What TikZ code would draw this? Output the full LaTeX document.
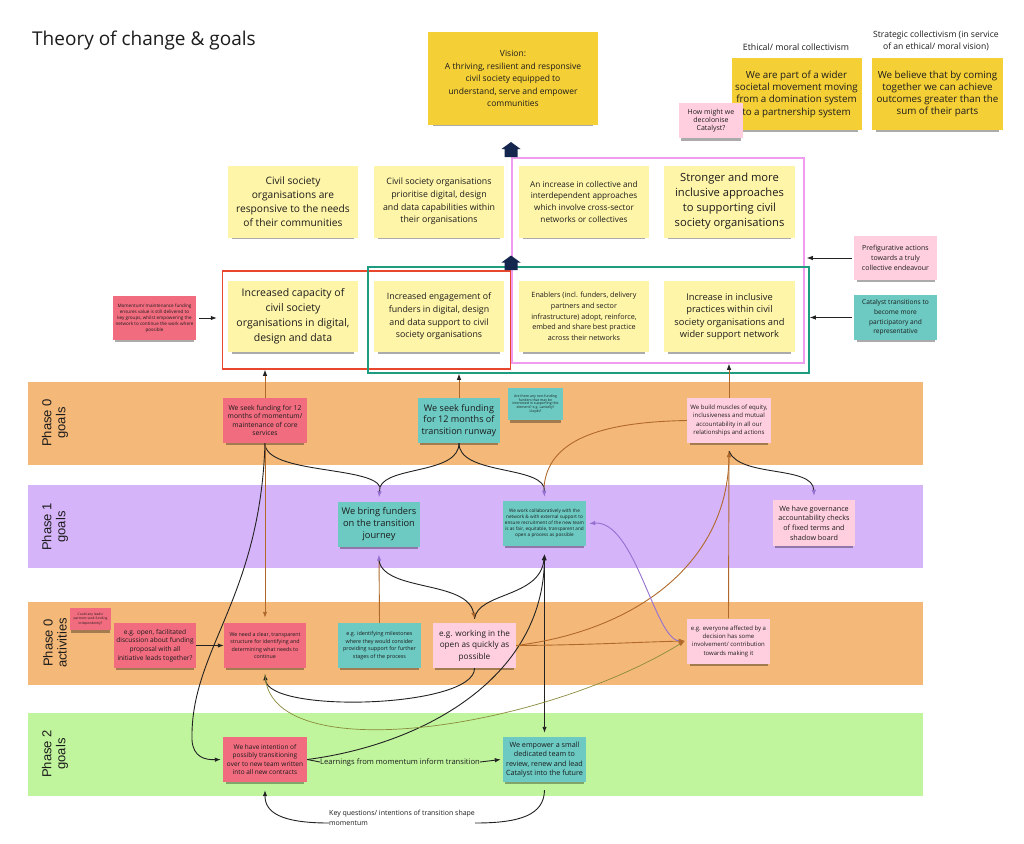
\documentclass[tikz,border=0pt]{standalone}
\usepackage{fontspec}
\setmainfont{Open Sans}
\newfontfamily\arialf{Liberation Sans}
\usetikzlibrary{arrows.meta,shadows,calc}
\definecolor{vyel}{HTML}{F5CF36}
\definecolor{lyel}{HTML}{FFF5A8}
\definecolor{sred}{HTML}{F16C7F}
\definecolor{spink}{HTML}{FFCFE0}
\definecolor{steal}{HTML}{6CCAC3}
\definecolor{borange}{HTML}{F4B878}
\definecolor{bpurple}{HTML}{D6B4FA}
\definecolor{bgreen}{HTML}{C0F59D}
\definecolor{fred}{HTML}{E8472E}
\definecolor{fgreen}{HTML}{1E9C80}
\definecolor{fpink}{HTML}{F29CF0}
\definecolor{navy}{HTML}{14264D}
\definecolor{lbrown}{HTML}{B0692A}
\definecolor{lpurple}{HTML}{9470D0}
\definecolor{lolive}{HTML}{8A8A3A}
\definecolor{txt}{HTML}{1C1C1C}
\definecolor{ldark}{HTML}{222222}
\begin{document}
\begin{tikzpicture}[x=1pt,y=-1pt,
  fs/.style 2 args={font=\fontsize{#1}{#2}\selectfont},
  sticky/.style={rectangle, inner sep=1pt, align=center, text=txt,
    drop shadow={shadow xshift=0pt, shadow yshift=-4pt, shadow scale=0.94, opacity=0.33, fill=black}},
  frm/.style={draw=#1, line width=1.5pt, inner sep=0pt},
  blk/.style={draw=ldark, line width=0.9pt},
  brn/.style={draw=lbrown, line width=0.9pt},
  ppl/.style={draw=lpurple, line width=0.9pt},
  olv/.style={draw=lolive, line width=0.7pt},
  tipk/.style={-{Latex[length=6pt,width=4.5pt,color=ldark]}},
  tipb/.style={-{Latex[length=6pt,width=4.5pt,color=lbrown]}},
  tipp/.style={-{Latex[length=6pt,width=4.5pt,color=lpurple]}},
  bandlbl/.style={rotate=90, align=center, text=txt, font=\arialf\fontsize{13}{14}\selectfont},
  plain/.style={text=txt, inner sep=0pt}
]
\useasboundingbox (0,0) rectangle (1024,843);
\fill[white] (0,0) rectangle (1024,843);

% bands
\fill[borange] (28,382) rectangle (923,465);
\fill[bpurple] (28,485) rectangle (923,568);
\fill[borange] (28,602) rectangle (923,685);
\fill[bgreen] (28,713) rectangle (923,796);
\node[bandlbl] (l1) at (55,423) {Phase 0\\goals};
\node[bandlbl] (l2) at (55,527) {Phase 1\\goals};
\node[bandlbl] (l3) at (55,643) {Phase 0\\activities};
\node[bandlbl] (l4) at (55,754) {Phase 2\\goals};

% title and headings
\node[plain, anchor=west, fs={19}{22}] (title) at (32,41) {Theory of change \& goals};
\node[plain, fs={8.8}{12.5}] (ethl) at (796,47) {Ethical/ moral collectivism};
\node[plain, fs={8.6}{12.8}, align=center] (strl) at (936,41) {Strategic collectivism (in service\\of an ethical/ moral vision)};

% top stickies
\node[sticky, fill=vyel, minimum width=170, minimum height=93, fs={8.5}{12.5}] (vision) at (513,78.5)
  {Vision:\\A thriving, resilient and responsive\\civil society equipped to\\understand, serve and empower\\communities};
\node[sticky, fill=vyel, minimum width=130, minimum height=72, fs={9.8}{12.3}] (eth) at (796.5,94)
  {We are part of a wider\\societal movement moving\\from a domination system\\to a partnership system};
\node[sticky, fill=vyel, minimum width=131, minimum height=72, fs={9.8}{12.3}] (str) at (937.5,94)
  {We believe that by coming\\together we can achieve\\outcomes greater than the\\sum of their parts};
\node[sticky, fill=spink, minimum width=64, minimum height=35, fs={7}{8.2}] (decol) at (711,120.5)
  {How might we\\decolonise\\Catalyst?};

% outcome rows
\node[sticky, fill=lyel, minimum width=130, minimum height=72, fs={10.2}{14}] (o1) at (293,201.5)
  {Civil society\\organisations are\\responsive to the needs\\of their communities};
\node[sticky, fill=lyel, minimum width=130, minimum height=72, fs={8.8}{12.7}] (o2) at (439,201.5)
  {Civil society organisations\\prioritise digital, design\\and data capabilities within\\their organisations};
\node[sticky, fill=lyel, minimum width=130, minimum height=72, fs={8.2}{11.7}] (o3) at (584,201.5)
  {An increase in collective and\\interdependent approaches\\which involve cross-sector\\networks or collectives};
\node[sticky, fill=lyel, minimum width=131, minimum height=72, fs={11.2}{15}] (o4) at (729.5,201.5)
  {Stronger and more\\inclusive approaches\\to supporting civil\\society organisations};
\node[sticky, fill=lyel, minimum width=130, minimum height=71, fs={10.5}{15}] (o5) at (293,316.5)
  {Increased capacity of\\civil society\\organisations in digital,\\design and data};
\node[sticky, fill=lyel, minimum width=130, minimum height=71, fs={8.8}{12.6}] (o6) at (439,316.5)
  {Increased engagement of\\funders in digital, design\\and data support to civil\\society organisations};
\node[sticky, fill=lyel, minimum width=130, minimum height=71, fs={7.2}{10.7}] (o7) at (584,316.5)
  {Enablers (incl. funders, delivery\\partners and sector\\infrastructure) adopt, reinforce,\\embed and share best practice\\across their networks};
\node[sticky, fill=lyel, minimum width=131, minimum height=71, fs={9.3}{12.6}] (o8) at (729.5,316.5)
  {Increase in inclusive\\practices within civil\\society organisations and\\wider support network};

% side notes
\node[sticky, fill=sred, minimum width=83, minimum height=44, fs={4.6}{6}] (mom) at (154.5,318)
  {Momentum/ maintenance funding\\ensures value is still delivered to\\key groups, whilst empowering the\\network to continue the work where\\possible};
\node[sticky, fill=spink, minimum width=83, minimum height=44, fs={7}{10}] (prefig) at (895.5,258)
  {Prefigurative actions\\towards a truly\\collective endeavour};
\node[sticky, fill=steal, minimum width=83, minimum height=45, fs={6.6}{9.8}] (catal) at (895.5,317.5)
  {Catalyst transitions to\\become more\\participatory and\\representative};

% phase 0 goals
\node[sticky, fill=sred, minimum width=84, minimum height=45, fs={6.8}{8.4}] (A) at (265,420.5)
  {We seek funding for 12\\months of momentum/\\maintenance of core\\services};
\node[sticky, fill=steal, minimum width=82, minimum height=45, fs={9.1}{11.3}] (B) at (459,420.5)
  {We seek funding\\for 12 months of\\transition runway};
\node[sticky, fill=steal, minimum width=55, minimum height=32, fs={3.5}{3.8}] (C) at (535.5,404)
  {Are there any non-funding\\funders that may be\\interested in supporting this\\element? e.g. Lankelly?\\Lloyds?};
\node[sticky, fill=spink, minimum width=84, minimum height=45, fs={6.1}{8.4}] (D) at (729,420.5)
  {We build muscles of equity,\\inclusiveness and mutual\\accountability in all our\\relationships and actions};

% phase 1 goals
\node[sticky, fill=steal, minimum width=82, minimum height=45, fs={9.3}{12}] (E) at (379,524)
  {We bring funders\\on the transition\\journey};
\node[sticky, fill=steal, minimum width=83, minimum height=45, fs={4.7}{6}] (F) at (544.5,523.5)
  {We work collaboratively with the\\network \& with external support to\\ensure recruitment of the new team\\is as fair, equitable, transparent and\\open a process as possible};
\node[sticky, fill=spink, minimum width=82, minimum height=46, fs={7.2}{9.7}] (G) at (814,523)
  {We have governance\\accountability checks\\of fixed terms and\\shadow board};

% phase 0 activities
\node[sticky, fill=sred, minimum width=41, minimum height=22, fs={3.3}{4.6}] (H) at (90.5,619)
  {Could any leads/\\partners seek funding\\independently?};
\node[sticky, fill=sred, minimum width=82, minimum height=45, fs={6.6}{8.6}] (I) at (155,645.5)
  {e.g. open, facilitated\\discussion about funding\\proposal with all\\initiative leads together?};
\node[sticky, fill=sred, minimum width=82, minimum height=45, fs={5.3}{7.6}] (J) at (265,645.5)
  {We need a clear, transparent\\structure for identifying and\\determining what needs to\\continue};
\node[sticky, fill=steal, minimum width=83, minimum height=45, fs={5.4}{7.6}] (K) at (379.5,645.5)
  {e.g. identifying milestones\\where they would consider\\providing support for further\\stages of the process};
\node[sticky, fill=spink, minimum width=83, minimum height=45, fs={8.2}{11.5}] (L) at (474.5,645.5)
  {e.g. working in the\\open as quickly as\\possible};
\node[sticky, fill=spink, minimum width=83, minimum height=45, fs={6}{8.3}] (M) at (728.5,641)
  {e.g. everyone affected by a\\decision has some\\involvement/ contribution\\towards making it};

% phase 2 goals
\node[sticky, fill=sred, minimum width=84, minimum height=45, fs={6.5}{8.6}] (N) at (265,759.5)
  {We have intention of\\possibly transitioning\\over to new team written\\into all new contracts};
\node[sticky, fill=steal, minimum width=83, minimum height=45, fs={7.2}{9.3}] (O) at (544.5,759.5)
  {We empower a small\\dedicated team to\\review, renew and lead\\Catalyst into the future};
\node[plain, fs={7.6}{9}] (learn) at (400,762) {Learnings from momentum inform transition};
\node[plain, anchor=west, align=left, fs={7}{10}] (keyq) at (329,818)
  {Key questions/ intentions of transition shape\\momentum};

% frames
\node[frm=fpink, minimum width=292, minimum height=205] (pinkF) at (658,260.5) {};
\node[frm=fred, minimum width=288, minimum height=98] (redF) at (366.5,320) {};
\node[frm=fgreen, minimum width=441, minimum height=106] (greenF) at (588.5,320) {};

% navy block arrows
\fill[navy] (511,142) -- (520.5,149) -- (517.5,149) -- (517.5,157) -- (504.5,157) -- (504.5,149) -- (501.5,149) -- cycle;
\fill[navy] (511,255.5) -- (520.5,262.5) -- (517.5,262.5) -- (517.5,270) -- (504.5,270) -- (504.5,262.5) -- (501.5,262.5) -- cycle;

% side arrows
\draw[blk,tipk] ([xshift=3pt]mom.east) -- ($(mom.east -| redF.west)+(-5,0)$);
\draw[blk,tipk] ([xshift=-2pt]prefig.west) -- ($(prefig.west -| pinkF.east)+(2,0)$);
\draw[blk,tipk] ([xshift=-2pt]catal.west) -- (catal.west -| greenF.east);

% phase 0 goals up to outcomes
\draw[brn,tipk] (A.north) -- (A.north |- redF.south);
\draw[brn,tipk] (B.north) -- (B.north |- greenF.south);
\draw[brn,tipk] (D.north) -- (D.north |- pinkF.south);

% brace to phase 1
\coordinate (em) at (380,487);
\coordinate (fm) at (544,487);
\draw[blk] (A.south) .. controls (265,474) and (372,466) .. (em);
\draw[blk] (B.south) .. controls (459,474) and (388,466) .. (em);
\draw[blk] (B.south) .. controls (459,474) and (536,466) .. (fm);
\draw[brn] (D.west) .. controls (600,422) and (548,440) .. (fm);
\draw[blk,tipp] (em) -- ([yshift=4pt]E.north);
\draw[blk,tipp] (fm) -- ([yshift=4pt]F.north);

% A downwards
\draw[brn,tipb] (A.south) -- ([yshift=5pt]J.north);
\draw[blk,tipk] (A.south) .. controls (260,600) and (190,650) .. (192,740) .. controls (193,757) and (205,760) .. ([xshift=-2pt]N.west);

% phase 1 / activities links
\draw[brn,tipp] (K.north) -- ([yshift=-8pt]E.south);
\draw[blk,tipb] ([yshift=-14pt]E.south) .. controls (385,592) and (468,580) .. ([yshift=4pt]L.north);
\draw[blk,tipk] ([yshift=4pt]L.north) .. controls (478,592) and (540,598) .. ([yshift=-8pt]F.south);
\draw[blk,tipk] (N.east) .. controls (420,745) and (543,680) .. ([yshift=-8pt]F.south);
\draw[blk,{Latex[length=6pt,width=4.5pt,color=ldark]}-{Latex[length=6pt,width=4.5pt,color=ldark]}] ([yshift=-8pt]F.south) -- ([yshift=4pt]O.north);
\draw[blk,tipk] (I.east) -- (J.west);
\draw[blk,tipk] (L.south) .. controls (475,708) and (268,714) .. ([yshift=-6pt]J.south);
\draw[brn,tipb] (L.east) .. controls (590,645) and (640,642) .. ([xshift=-2pt]M.west);
\draw[brn,tipb] (L.east) .. controls (640,630) and (728,560) .. ([yshift=-8pt]D.south);
\draw[ppl,{Latex[length=6pt,width=4.5pt,color=lpurple]}-{Latex[length=6pt,width=4.5pt,color=lbrown]}] ([xshift=3pt]F.east) .. controls (635,520) and (655,640) .. ([xshift=-2pt]M.west);
\draw[olv,tipb] ([yshift=-6pt]J.south) .. controls (268,770) and (540,730) .. ([xshift=-2pt]M.west);
\draw[brn,tipb] (M.north) -- ([yshift=-8pt]D.south);
\draw[blk,tipp] ([yshift=-8pt]D.south) .. controls (740,478) and (813,465) .. ([yshift=4pt]G.north);

% phase 2 links
\draw[blk] (N.east) -- (learn.west);
\draw[blk,tipk] (learn.east) -- ([xshift=-2pt]O.west);
\draw[blk] ([yshift=-8pt]O.south) .. controls (544,815) and (520,823) .. ([yshift=-5pt]keyq.east);
\draw[blk,tipk] ([yshift=-5pt]keyq.west) .. controls (280,823) and (265,812) .. ([yshift=-8pt]N.south);
\end{tikzpicture}
\end{document}
